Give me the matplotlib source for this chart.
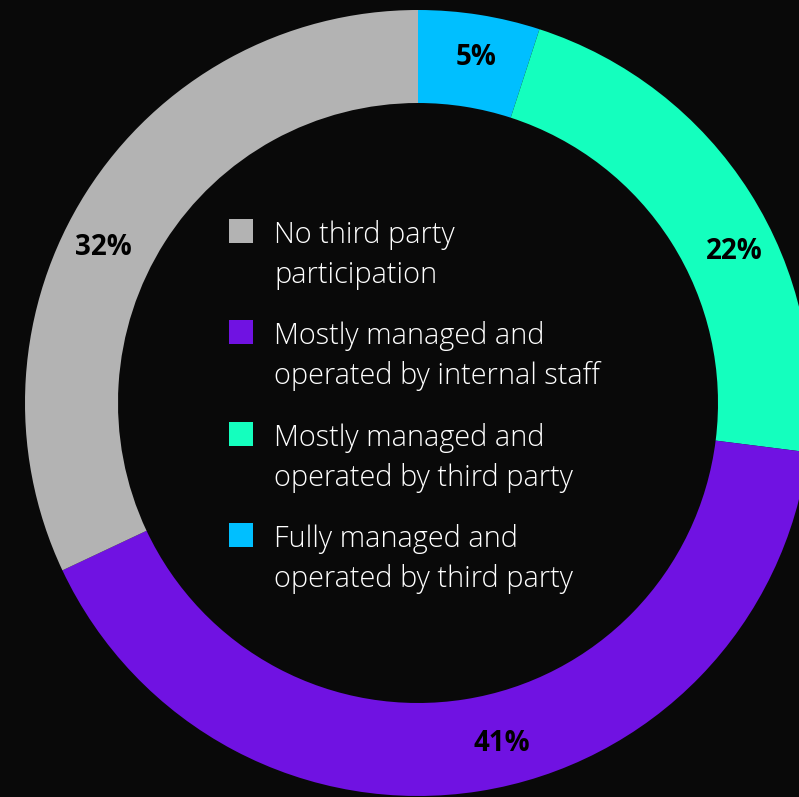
import matplotlib
matplotlib.use("Agg")
import matplotlib.pyplot as plt
from matplotlib.patches import Rectangle
import numpy as np

# data (clockwise from top)
categories = ["Fully managed and\noperated by third party",
              "Mostly managed and\noperated by third party",
              "Mostly managed and\noperated by internal staff",
              "No third party\nparticipation"]
values = [5, 22, 41, 32]
colors = ["#00BFFF", "#14FFBE", "#7012E2", "#B3B3B3"]
legend_order = [3, 2, 1, 0]
label_angle_shift = [0.5, 6.8, -4.8, -6.1]  # degrees nudge of % labels

W, H = 799, 797
fig = plt.figure(figsize=(W / 100, H / 100), dpi=100)
fig.patch.set_facecolor("#090909")
ax = fig.add_axes([0, 0, 1, 1])
ax.set_facecolor("#090909")

cx, cy = 418, H - 403
R, width = 393, 93
wedges, texts, autotexts = ax.pie(values, colors=colors, startangle=90, counterclock=False,
       radius=R, center=(cx, cy), frame=True,
       wedgeprops=dict(width=width, linewidth=0),
       autopct=lambda p: f"{p:.0f}%", pctdistance=(R - width / 2) / R,
       textprops=dict(fontsize=20, fontweight="bold", color="black", family="Open Sans"))
ax.set_aspect("auto")
ax.set_xlim(0, W)
ax.set_ylim(0, H)
ax.axis("off")

# nudge percentage labels along the ring
rmid = R - width / 2 + 4
cum = np.cumsum([0] + values[:-1])
for t, v, c, sh in zip(autotexts, values, cum, label_angle_shift):
    ang = np.deg2rad((c + v / 2) / sum(values) * 360 + sh)
    t.set_position((cx + rmid * np.sin(ang), cy + rmid * np.cos(ang)))

# legend in the centre
x_sq, sq = 229, 24
x_txt = 274
y0_sq, y0_base, step, lstep = 231, 243, 101.3, 40
for i, k in enumerate(legend_order):
    ysq = H - (y0_sq + i * step)
    ax.add_patch(Rectangle((x_sq, ysq - sq / 2), sq, sq, color=colors[k], lw=0))
    for j, line in enumerate(categories[k].split("\n")):
        ax.text(x_txt, H - (y0_base + i * step + j * lstep), line, color="white",
                fontsize=20.8, fontweight=300, family="Open Sans", va="baseline", ha="left")

fig.savefig("out.png", dpi=100, facecolor=fig.get_facecolor())
